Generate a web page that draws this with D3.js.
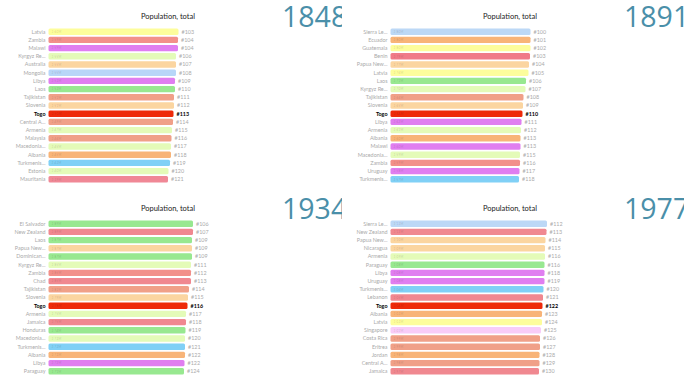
<!DOCTYPE html>
<html>
<head>
<meta charset="utf-8">
<script src="https://cdn.jsdelivr.net/npm/d3@7"></script>
<style>
  html, body { margin: 0; padding: 0; background: #fff; }
  svg { display: block; }
</style>
</head>
<body>
<svg id="chart" width="684" height="384"></svg>
<script>
// ---------- data ----------
const years = ["1848", "1891", "1934", "1977"];
const chartTitle = "Population, total";
const highlight = "Togo";

const names1848 = ["Latvia","Zambia","Malawi","Kyrgyz Re...","Australia","Mongolia","Libya","Laos","Tajikistan","Slovenia","Togo","Central A...","Armenia","Malaysia","Macedonia...","Albania","Turkmenis...","Estonia","Mauritania"];
const values1848 = [2.60,2.59,2.59,2.55,2.55,2.55,2.53,2.53,2.51,2.51,2.50,2.49,2.47,2.46,2.45,2.45,2.43,2.40,2.39];
const ranks1848 = ["#103","#104","#104","#106","#107","#108","#109","#110","#111","#112","#113","#114","#115","#116","#117","#118","#119","#120","#121"];

const names1891 = ["Sierra Le...","Ecuador","Guatemala","Benin","Papua New...","Latvia","Laos","Kyrgyz Re...","Tajikistan","Slovenia","Togo","Libya","Armenia","Albania","Malawi","Macedonia...","Zambia","Uruguay","Turkmenis..."];
const values1891 = [2.80,2.80,2.80,2.79,2.77,2.76,2.71,2.70,2.66,2.65,2.64,2.62,2.61,2.60,2.60,2.59,2.59,2.58,2.57];
const ranks1891 = ["#100","#101","#102","#103","#104","#105","#106","#107","#108","#109","#110","#111","#112","#113","#113","#115","#116","#117","#118"];

const names1934 = ["El Salvador","New Zealand","Laos","Papua New...","Dominican...","Kyrgyz Re...","Zambia","Chad","Tajikistan","Slovenia","Togo","Armenia","Jamaica","Honduras","Macedonia...","Turkmenis...","Albania","Libya","Paraguay"];
const values1934 = [2.89,2.89,2.87,2.87,2.87,2.85,2.85,2.85,2.81,2.79,2.78,2.75,2.75,2.74,2.73,2.73,2.73,2.72,2.71];
const ranks1934 = ["#106","#107","#109","#109","#109","#111","#112","#113","#114","#115","#116","#117","#118","#119","#120","#121","#122","#122","#124"];

const names1977 = ["Sierra Le...","New Zealand","Papua New...","Nicaragua","Armenia","Paraguay","Libya","Uruguay","Turkmenis...","Lebanon","Togo","Albania","Latvia","Singapore","Costa Rica","Eritrea","Jordan","Central A...","Jamaica"];
const values1977 = [3.13,3.12,3.10,3.09,3.09,3.08,3.08,3.08,3.06,3.05,3.04,3.03,3.03,3.01,2.99,2.99,2.98,2.98,2.97];
const ranks1977 = ["#112","#113","#114","#115","#116","#116","#118","#119","#120","#121","#122","#123","#124","#125","#126","#127","#128","#129","#130"];

// ---------- styles ----------
const countryColors = {
  "Latvia":"#fdfd9c","Zambia":"#f2908a","Malawi":"#e07ef0","Kyrgyz Re...":"#e4fbb8","Australia":"#fbd5a0",
  "Mongolia":"#b8d6f8","Libya":"#e07ef0","Laos":"#98e890","Tajikistan":"#f0a088","Slovenia":"#fbd5a0",
  "Togo":"#ee2a0a","Central A...":"#f0a088","Armenia":"#e4fbb8","Malaysia":"#f0a088","Macedonia...":"#e4fbb8",
  "Albania":"#f8b478","Turkmenis...":"#80d0f6","Estonia":"#e4fbb8","Mauritania":"#f08896",
  "Sierra Le...":"#bcd8f6","Ecuador":"#f8b478","Guatemala":"#fdfd9c","Benin":"#f07a88","Papua New...":"#fbd5a0",
  "Uruguay":"#e07ef0","El Salvador":"#98e890","New Zealand":"#f08890","Dominican...":"#98e890","Chad":"#f08890",
  "Jamaica":"#f08890","Honduras":"#98e890","Paraguay":"#98e890","Nicaragua":"#fbd5a0","Lebanon":"#f08890",
  "Singapore":"#f8ccf8","Costa Rica":"#f0a088","Eritrea":"#f0a088","Jordan":"#f8b478"
};

const panels = [
  {year: years[0], names: names1848, values: values1848, ranks: ranks1848},
  {year: years[1], names: names1891, values: values1891, ranks: ranks1891},
  {year: years[2], names: names1934, values: values1934, ranks: ranks1934},
  {year: years[3], names: names1977, values: values1977, ranks: ranks1977}
];

const W = 342, H = 192;
const barX0 = 48.5;
const svg = d3.select("#chart");

const x = d3.scaleLinear().domain([0, 3.2]).range([0, 160]);
const fmt = d3.format(".3s");

panels.forEach((p, i) => {
  const col = i % 2, row = Math.floor(i / 2);
  const g = svg.append("g").attr("transform", `translate(${col * W},${row * H})`);
  const clipId = "clip" + i;
  g.append("clipPath").attr("id", clipId).append("rect").attr("width", W).attr("height", H);
  const inner = g.append("g").attr("clip-path", `url(#${clipId})`);

  const y = d3.scaleBand().domain(d3.range(p.names.length))
    .range([27.6, 27.6 + p.names.length * 8.2]).paddingInner(0.22).paddingOuter(0.11);

  inner.append("text").attr("x", 195).attr("y", 19).attr("text-anchor", "end")
    .attr("font-family", "Lato, 'Open Sans', sans-serif").attr("font-size", 7.5)
    .attr("fill", "#222").text(chartTitle);

  inner.append("text").attr("x", 282).attr("y", 27).attr("font-family", "'Open Sans', 'DejaVu Sans', sans-serif")
    .attr("font-size", 28.5).attr("fill", "#4a8fa9").text(p.year);

  const rows = inner.selectAll("g.row").data(p.names.map((n, k) => ({name: n, value: p.values[k], rank: p.ranks[k], k})))
    .join("g").attr("class", "row");

  rows.append("rect")
    .attr("x", barX0).attr("y", d => y(d.k))
    .attr("width", d => x(d.value)).attr("height", y.bandwidth())
    .attr("rx", 1.5).attr("fill", d => countryColors[d.name] || "#ccc");

  rows.append("text")
    .attr("x", barX0 + 3).attr("y", d => y(d.k) + y.bandwidth() / 2 + 1.2)
    .attr("font-family", "Lato, sans-serif").attr("font-size", 3.4)
    .attr("fill", "#000").attr("fill-opacity", 0.18).text(d => fmt(d.value * 1e6));

  rows.append("text")
    .attr("x", barX0 - 3).attr("y", d => y(d.k) + y.bandwidth() / 2 + 1.9)
    .attr("text-anchor", "end").attr("font-family", "Lato, sans-serif").attr("font-size", 5.4)
    .attr("font-weight", d => d.name === highlight ? "bold" : "normal")
    .attr("fill", d => d.name === highlight ? "#000" : "#aaa").text(d => d.name);

  rows.append("text")
    .attr("x", d => barX0 + x(d.value) + 3).attr("y", d => y(d.k) + y.bandwidth() / 2 + 1.9)
    .attr("font-family", "Lato, sans-serif").attr("font-size", 5.4)
    .attr("font-weight", d => d.name === highlight ? "bold" : "normal")
    .attr("fill", d => d.name === highlight ? "#000" : "#aaa").text(d => d.rank);
});
</script>
</body>
</html>
